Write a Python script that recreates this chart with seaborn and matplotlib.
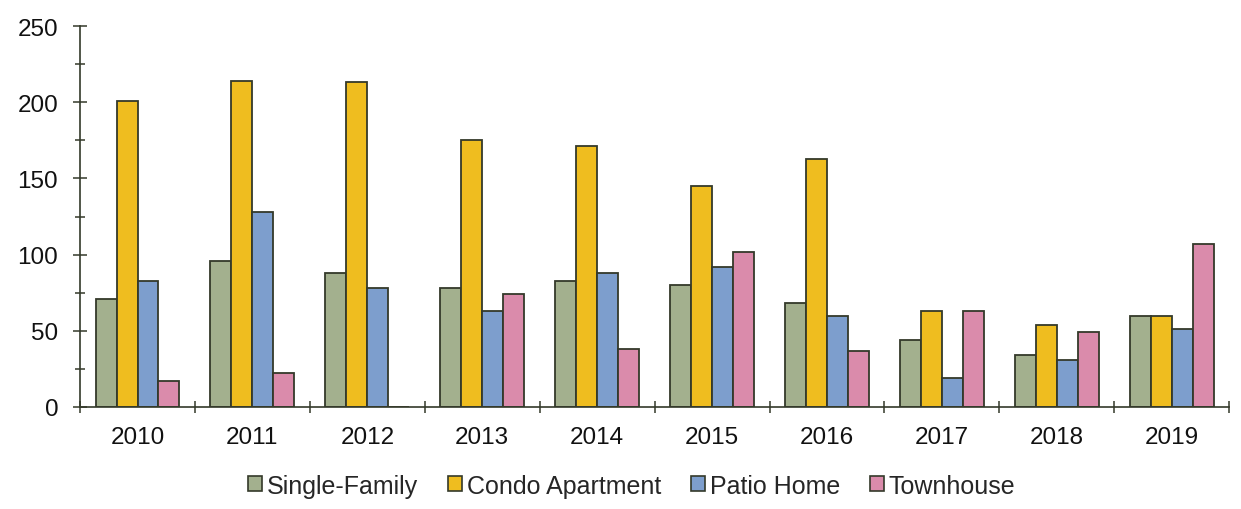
import matplotlib
matplotlib.use("Agg")
import matplotlib.pyplot as plt
import seaborn as sns
import pandas as pd
from matplotlib.ticker import MultipleLocator, FixedLocator

years = ["2010", "2011", "2012", "2013", "2014", "2015", "2016", "2017", "2018", "2019"]
single_family = [71, 96, 88, 78, 83, 80, 68, 44, 34, 60]
condo_apartment = [201, 214, 213, 175, 171, 145, 163, 63, 54, 60]
patio_home = [83, 128, 78, 63, 88, 92, 60, 19, 31, 51]
townhouse = [17, 22, 0, 74, 38, 102, 37, 63, 49, 107]

series_names = ["Single-Family", "Condo Apartment", "Patio Home", "Townhouse"]
series_values = [single_family, condo_apartment, patio_home, townhouse]
colors = ["#a3b08e", "#efbd1f", "#7d9ecd", "#da8bab"]
edge = "#34392a"

rows = []
for name, vals in zip(series_names, series_values):
    for yr, v in zip(years, vals):
        rows.append({"Year": yr, "Type": name, "Count": v})
df = pd.DataFrame(rows)

sns.set_theme(style="white")
plt.rcParams["font.family"] = ["Liberation Sans", "DejaVu Sans"]

FS = 17.5

fig = plt.figure(figsize=(12.41, 5.10), dpi=100)
ax = fig.add_axes([0.0645, 0.2, 0.926, 0.747])

sns.barplot(data=df, x="Year", y="Count", hue="Type", hue_order=series_names,
            order=years, palette=colors, width=0.73, edgecolor=edge,
            linewidth=1.3, saturation=1, ax=ax, legend=False)

ax.set_ylim(0, 250)
ax.set_xlim(-0.5, len(years) - 0.5)
ax.set_xlabel("")
ax.set_ylabel("")

for s in ["top", "right"]:
    ax.spines[s].set_visible(False)
for s in ["left", "bottom"]:
    ax.spines[s].set_color(edge)
    ax.spines[s].set_linewidth(1.2)

ax.yaxis.set_major_locator(MultipleLocator(50))
ax.yaxis.set_minor_locator(MultipleLocator(25))
ax.tick_params(axis="y", which="major", direction="inout", length=9.5, width=1.1,
               color=edge, left=True, labelsize=FS, pad=11, labelcolor="#111111")
ax.tick_params(axis="y", which="minor", direction="inout", length=6.5, width=1.1,
               color=edge, left=True)
ax.tick_params(axis="x", which="major", length=0, labelsize=FS, pad=13.5,
               labelcolor="#111111")
ax.xaxis.set_minor_locator(FixedLocator([i - 0.5 for i in range(len(years) + 1)]))
ax.tick_params(axis="x", which="minor", direction="inout", length=9, width=1.1,
               color=edge, bottom=True)

handles = [plt.Rectangle((0, 0), 1, 1, facecolor=c, edgecolor=edge, linewidth=1.2)
           for c in colors]
fig.legend(handles, series_names, loc="center", bbox_to_anchor=(0.509, 0.046),
           ncol=4, frameon=False, fontsize=18, handlelength=0.55, handleheight=0.55,
           handletextpad=0.2, columnspacing=1.2)

fig.savefig("out.png", dpi=100, facecolor="white")
